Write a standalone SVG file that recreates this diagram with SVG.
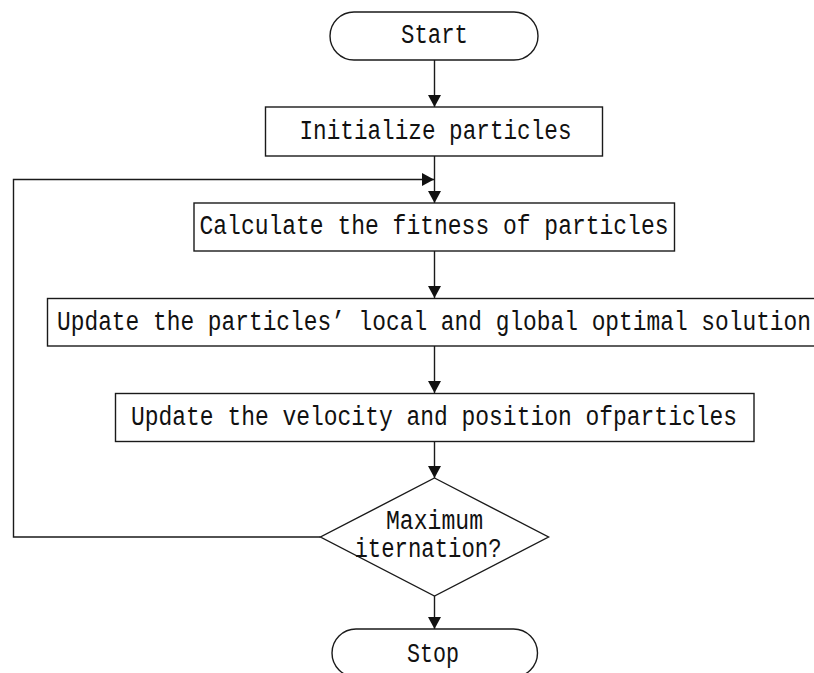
<svg xmlns="http://www.w3.org/2000/svg" width="814" height="673" viewBox="0 0 814 673">
<defs>
<style>
.shape{fill:#fff;stroke:#1a1a1a;stroke-width:1.4}
.conn{fill:none;stroke:#1a1a1a;stroke-width:1.4}
.t{font-family:"Liberation Mono","DejaVu Sans Mono",monospace;font-size:27px;fill:#111;text-anchor:middle}
</style>
<marker id="arr" viewBox="0 0 12 13" refX="12" refY="6.5" markerWidth="12" markerHeight="13" markerUnits="userSpaceOnUse" orient="auto">
<path d="M0,0 L12,6.5 L0,13 Z" fill="#111"/>
</marker>
</defs>
<rect width="814" height="673" fill="#fff"/>
<g id="connectors">
<line class="conn" x1="434.5" y1="60" x2="434.5" y2="107" marker-end="url(#arr)"/>
<line class="conn" x1="434.5" y1="156" x2="434.5" y2="203" marker-end="url(#arr)"/>
<line class="conn" x1="434.5" y1="251" x2="434.5" y2="298" marker-end="url(#arr)"/>
<line class="conn" x1="434.5" y1="346" x2="434.5" y2="393" marker-end="url(#arr)"/>
<line class="conn" x1="434.5" y1="441" x2="434.5" y2="478" marker-end="url(#arr)"/>
<line class="conn" x1="434.5" y1="596" x2="434.5" y2="629" marker-end="url(#arr)"/>
<polyline class="conn" points="320.5,537 13.5,537 13.5,179.5 434,179.5" marker-end="url(#arr)"/>
</g>
<g id="start">
<rect class="shape" x="330" y="12" width="208" height="48" rx="24" ry="24"/>
<text class="t" x="434.5" y="43" textLength="67" lengthAdjust="spacingAndGlyphs">Start</text>
</g>
<g id="init">
<rect class="shape" x="265.5" y="107" width="337" height="49"/>
<text class="t" x="435.5" y="138.5" textLength="272" lengthAdjust="spacingAndGlyphs">Initialize particles</text>
</g>
<g id="calc">
<rect class="shape" x="194" y="203" width="480.5" height="48"/>
<text class="t" x="434" y="234" textLength="469" lengthAdjust="spacingAndGlyphs">Calculate the fitness of particles</text>
</g>
<g id="update">
<rect class="shape" x="47.5" y="298.5" width="780" height="47.5"/>
<text class="t" x="434" y="329.5" textLength="754" lengthAdjust="spacingAndGlyphs">Update the particles’ local and global optimal solution</text>
</g>
<g id="velocity">
<rect class="shape" x="115.5" y="393.5" width="638.5" height="48"/>
<text class="t" x="434" y="424.5" textLength="606" lengthAdjust="spacingAndGlyphs">Update the velocity and position ofparticles</text>
</g>
<g id="decision">
<polygon class="shape" points="434.5,478 548.5,537 434.5,596 320.5,537"/>
<text class="t" x="434.5" y="529" textLength="97" lengthAdjust="spacingAndGlyphs">Maximum</text>
<text class="t" x="428" y="557" textLength="147" lengthAdjust="spacingAndGlyphs">iternation?</text>
</g>
<g id="stop">
<rect class="shape" x="332" y="629" width="205.5" height="48" rx="24" ry="24"/>
<text class="t" x="433" y="662" textLength="52" lengthAdjust="spacingAndGlyphs">Stop</text>
</g>
</svg>
